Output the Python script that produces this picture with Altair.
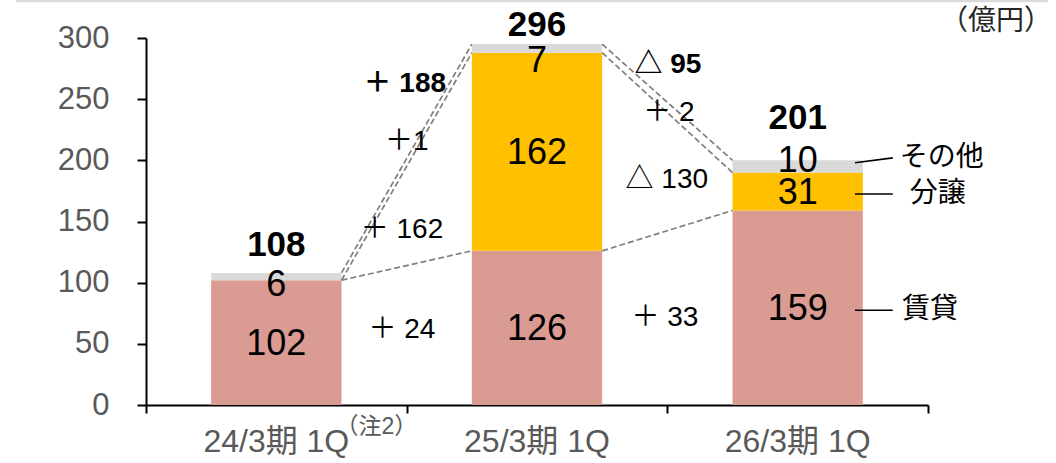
import altair as alt
import pandas as pd

# Quarterly figures (億円)
periods = ["24/3期 1Q", "25/3期 1Q", "26/3期 1Q"]
rental = [102, 126, 159]   # 賃貸
sales = [0, 162, 31]       # 分譲
other = [6, 7, 10]         # その他
totals = [108, 296, 201]

segments = ["賃貸", "分譲", "その他"]
seg_colors = ["#DA9B93", "#FFC000", "#D9D9D9"]

# Year-on-year change labels between the bars
change_texts = ["＋ 188", "＋1", "＋ 162", "＋ 24", "△ 95", "＋ 2", "△ 130", "＋ 33"]
change_bold = [True, False, False, False, True, False, False, False]

# --- layout helpers (x axis runs 0..3, one unit per period) ---
BAR_L, BAR_R = 0.25, 0.75
BAR_C = (BAR_L + BAR_R) / 2
PX_PER_UNIT_Y = 367 / 300
change_pos = [(0.993, 262), (1.0, 215), (0.982, 143), (0.982, 61),
              (2.002, 278), (2.006, 239), (1.998, 184), (1.991, 71)]
total_lift = [28, 19, 42]            # px above each bar top
other_nudge = [7, 12, -6]            # px shift of the small その他 labels
name_x = {"賃貸": 2.90, "分譲": 2.93, "その他": 2.892}
name_lift = {"賃貸": -2, "分譲": -2, "その他": 7}
lead_lift = {"賃貸": -2, "分譲": -2, "その他": 3}
FONT = "Liberation Sans, Noto Sans CJK JP"

seg_values = {"賃貸": rental, "分譲": sales, "その他": other}

rows = []
for i, p in enumerate(periods):
    cum = 0
    for s in segments:
        v = seg_values[s][i]
        lab_y = cum + v / 2
        if s == "その他":
            lab_y -= other_nudge[i] / PX_PER_UNIT_Y
        rows.append(dict(period=p, seg=s, value=v, y0=cum, y1=cum + v,
                         mid=cum + v / 2, lab_y=lab_y,
                         x0=i + BAR_L, x1=i + BAR_R, xc=i + BAR_C))
        cum += v
bars_df = pd.DataFrame(rows)

x_scale = alt.Scale(domain=[0, 3], nice=False, zero=False)
y_scale = alt.Scale(domain=[0, 300], nice=False)

x_axis = alt.Axis(values=[0, 1, 2, 3], labels=False, title=None, grid=False,
                  tickSize=8, tickWidth=2, tickColor="black",
                  domainColor="black", domainWidth=2)
y_axis = alt.Axis(values=list(range(0, 301, 50)), title=None, grid=False,
                  tickSize=9, tickWidth=2, tickColor="black",
                  domainColor="black", domainWidth=2,
                  labelFont=FONT, labelFontSize=31, labelColor="#595959",
                  labelPadding=28)

bars = alt.Chart(bars_df).mark_rect().encode(
    x=alt.X("x0:Q", scale=x_scale, axis=x_axis),
    x2="x1:Q",
    y=alt.Y("y0:Q", scale=y_scale, axis=y_axis),
    y2="y1:Q",
    color=alt.Color("seg:N", scale=alt.Scale(domain=segments, range=seg_colors), legend=None),
)

seg_labels = alt.Chart(bars_df[bars_df["value"] > 0]).mark_text(
    font=FONT, fontSize=36, color="black", baseline="middle", dy=1
).encode(x=alt.X("xc:Q", scale=x_scale), y=alt.Y("lab_y:Q", scale=y_scale), text="value:Q")

tot_layers = []
for i, t in enumerate(totals):
    top = bars_df[bars_df["period"] == periods[i]]["y1"].max()
    tdf = pd.DataFrame([dict(x=i + BAR_C, y=top, label=t)])
    tot_layers.append(
        alt.Chart(tdf).mark_text(font=FONT, fontSize=35, fontWeight="bold",
                                 baseline="middle", dy=-total_lift[i], color="black")
        .encode(x=alt.X("x:Q", scale=x_scale), y=alt.Y("y:Q", scale=y_scale), text="label:N")
    )

# Dashed connectors between the cumulative levels of consecutive bars
levels = []
for i in range(len(periods)):
    levels.append([rental[i], rental[i] + sales[i], rental[i] + sales[i] + other[i]])
conn_rows = []
for i in range(len(periods) - 1):
    for k in range(3):
        conn_rows.append(dict(x=i + BAR_R, x2=i + 1 + BAR_L, y=levels[i][k], y2=levels[i + 1][k]))
conn = alt.Chart(pd.DataFrame(conn_rows)).mark_rule(
    color="#7F7F7F", strokeWidth=1.7, strokeDash=[6, 3]
).encode(x=alt.X("x:Q", scale=x_scale), x2="x2:Q",
         y=alt.Y("y:Q", scale=y_scale), y2="y2:Q")

chg_df = pd.DataFrame([dict(x=p[0], y=p[1], label=t, bold=b)
                       for t, p, b in zip(change_texts, change_pos, change_bold)])
chg_bold = alt.Chart(chg_df[chg_df["bold"]]).mark_text(
    font=FONT, fontSize=28, fontWeight="bold", color="black", baseline="middle"
).encode(x=alt.X("x:Q", scale=x_scale), y=alt.Y("y:Q", scale=y_scale), text="label:N")
chg_norm = alt.Chart(chg_df[~chg_df["bold"]]).mark_text(
    font=FONT, fontSize=28, color="black", baseline="middle"
).encode(x=alt.X("x:Q", scale=x_scale), y=alt.Y("y:Q", scale=y_scale), text="label:N")

# Segment names with leader lines beside the last bar
last = bars_df[bars_df["period"] == periods[-1]].copy()
last["ly"] = [m + name_lift[s] for s, m in zip(last["seg"], last["mid"])]
last["sy"] = [m + lead_lift[s] for s, m in zip(last["seg"], last["mid"])]
last["lx0"] = 2.72
last["lx1"] = 2.865
last["tx"] = [name_x[s] for s in last["seg"]]
leaders = alt.Chart(last).mark_rule(color="black", strokeWidth=1.6).encode(
    x=alt.X("lx0:Q", scale=x_scale), x2="lx1:Q",
    y=alt.Y("sy:Q", scale=y_scale), y2="ly:Q")
names = alt.Chart(last).mark_text(
    font=FONT, fontSize=28, color="black", align="left", baseline="middle"
).encode(x=alt.X("tx:Q", scale=x_scale), y=alt.Y("ly:Q", scale=y_scale), text="seg:N")

# Category labels under the axis
cat_df = pd.DataFrame(dict(x=[i + BAR_C for i in range(len(periods))], label=periods))
cats = alt.Chart(cat_df).mark_text(
    font=FONT, fontSize=32, color="#595959", baseline="middle"
).encode(x=alt.X("x:Q", scale=x_scale), y=alt.value(404), text="label:N")

note = alt.Chart(pd.DataFrame(dict(x=[0.727], label=["（注2）"]))).mark_text(
    font=FONT, fontSize=23, color="#595959", align="left", baseline="middle"
).encode(x=alt.X("x:Q", scale=x_scale), y=alt.value(389), text="label:N")

unit = alt.Chart(pd.DataFrame(dict(label=["（億円）"]))).mark_text(
    font=FONT, fontSize=28, color="#262626", baseline="middle"
).encode(x=alt.value(850), y=alt.value(-16), text="label:N")

top_line = alt.Chart(pd.DataFrame(dict(a=[0]))).mark_rule(
    color="#D9D9D9", strokeWidth=2.5
).encode(x=alt.value(-130), x2=alt.value(902), y=alt.value(-37))

chart = alt.layer(
    top_line, bars, conn, seg_labels, *tot_layers, chg_bold, chg_norm,
    leaders, names, cats, note, unit
).properties(
    width=782, height=367,
    padding={"left": 146, "top": 38, "right": 128, "bottom": 58},
    autosize=alt.AutoSizeParams(type="none"),
).configure_view(stroke=None)

chart.save("out.html", embed_options={"renderer": "svg", "actions": False})
